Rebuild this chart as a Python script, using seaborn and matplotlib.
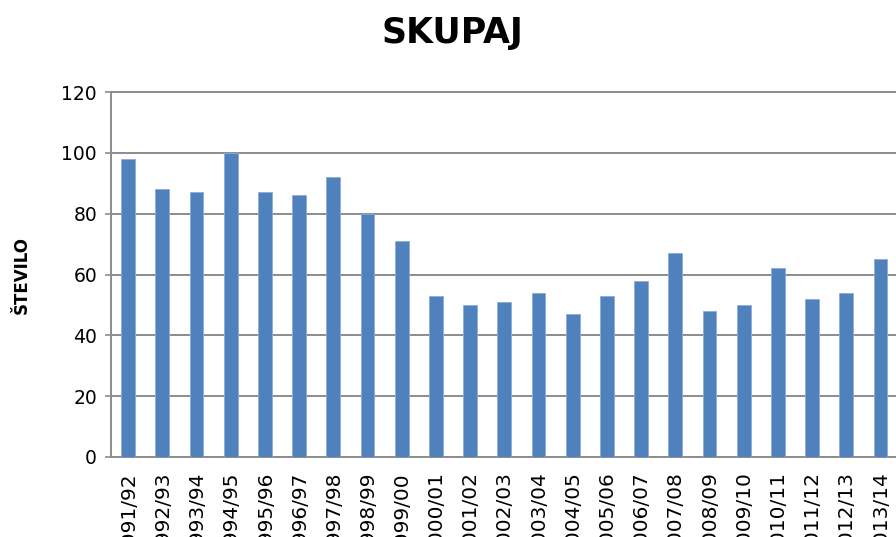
import matplotlib
matplotlib.use("Agg")
import matplotlib.pyplot as plt
import seaborn as sns
import pandas as pd

seasons = ["1991/92", "1992/93", "1993/94", "1994/95", "1995/96", "1996/97",
           "1997/98", "1998/99", "1999/00", "2000/01", "2001/02", "2002/03",
           "2003/04", "2004/05", "2005/06", "2006/07", "2007/08", "2008/09",
           "2009/10", "2010/11", "2011/12", "2012/13", "2013/14"]
counts = [98, 88, 87, 100, 87, 86, 92, 80, 71, 53, 50, 51, 54, 47, 53, 58, 67,
          48, 50, 62, 52, 54, 65]
y_ticks = [0, 20, 40, 60, 80, 100, 120]

sns.set_theme(style="white")
plt.rcParams['font.family'] = ['DejaVu Sans']
plt.rcParams['text.color'] = 'black'
plt.rcParams['axes.labelcolor'] = 'black'
plt.rcParams['xtick.color'] = 'black'
plt.rcParams['ytick.color'] = 'black'

df = pd.DataFrame({"season": seasons, "count": counts})

fig = plt.figure(figsize=(8.96, 5.37), dpi=100)
ax = fig.add_axes([111 / 896, 1 - 457 / 537, (897.6 - 111) / 896, (457 - 92) / 537])

sns.barplot(data=df, x="season", y="count", color="#4F81BD", saturation=1,
            width=0.4, edgecolor="#8EAADB", linewidth=0.6, ax=ax, zorder=3)

ax.set_xlim(-0.5, len(seasons) - 0.5)
ax.set_ylim(0, 120)
ax.set_yticks(y_ticks)
ax.set_yticklabels([str(v) for v in y_ticks], fontsize=13.5, color="black")
ax.yaxis.grid(True, color="#8C8C8C", linewidth=1.4, zorder=0)
ax.xaxis.grid(False)
ax.set_axisbelow(True)

ax.spines["right"].set_visible(False)
for s in ["left", "bottom", "top"]:
    ax.spines[s].set_visible(True)
    ax.spines[s].set_color("#8C8C8C")
    ax.spines[s].set_linewidth(1.4)

ax.tick_params(axis="y", left=True, length=4, width=1.2, color="#8C8C8C", pad=6,
               labelcolor="black")
ax.tick_params(axis="x", bottom=False, pad=4, labelcolor="black")
for lbl in ax.get_xticklabels():
    lbl.set_rotation(90)
    lbl.set_fontsize(14.5)
    lbl.set_va("top")
    lbl.set_ha("center")

ax.set_xlabel("")
ax.set_ylabel("ŠTEVILO", fontsize=12, fontweight="bold", color="black")
ax.yaxis.set_label_coords(-0.102, 0.5)

fig.text(452 / 896, 1 - 33 / 537, "SKUPAJ", fontsize=25, fontweight="bold",
         ha="center", va="center", color="black")

fig.savefig("out.png", dpi=100)
